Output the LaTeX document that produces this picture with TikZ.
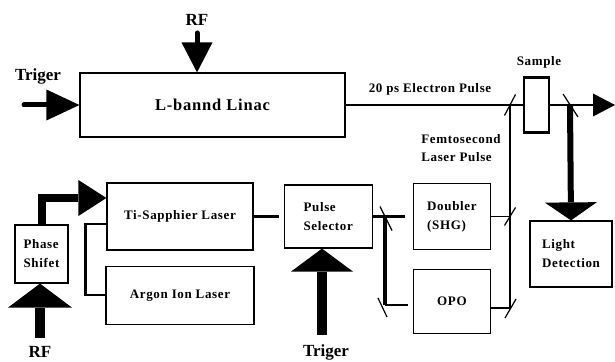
\documentclass[tikz,border=0pt]{standalone}
\usepackage{fontspec}
\setmainfont{Liberation Serif}
\newfontfamily\labelfont[LetterSpace=5]{Liberation Serif}
\usetikzlibrary{arrows.meta, positioning, calc}

\begin{document}
\begin{tikzpicture}[
    x=1pt, y=1pt,
    node distance=15pt and 30pt,
    % Node styles
    unit/.style={rectangle, draw, line width=1.2pt, inner sep=0pt, align=left, font=\labelfont\bfseries\fontsize{13}{19}\selectfont},
    cell/.style={unit, line width=2.2pt},
    tag/.style={font=\bfseries\fontsize{17}{19}\selectfont},
    note/.style={align=left, font=\labelfont\bfseries\fontsize{13}{18}\selectfont},
    % Arrow styles
    feed/.style n args={3}{line width=#1, line join=miter, -{Triangle[length=#2, width=#3, line width=0pt]}},
    beam/.style={line width=1.6pt},
    path/.style={line width=2.4pt},
    mirror/.style={line width=1.2pt},
]
\useasboundingbox (0,0) rectangle (615,361);

% Linac and electron beam
\node (linac) [unit, minimum width=265pt, minimum height=64pt, font=\labelfont\bfseries\fontsize{16.5}{18}\selectfont] at (212.5,256) {L-bannd Linac};
\node (sample) [cell, minimum width=25pt, minimum height=55pt] at (536.5,256) {};
\node (samplelbl) [note] at (539,299) {Sample};
\node (pulselbl) [note] at (430,272) {20 ps Electron Pulse};
\node (femtolbl) [note] at (461,213) {Femtosecond\\Laser Pulse};

% Laser chain
\node (tisa) [unit, minimum width=146pt, minimum height=67pt] at (180,144.5) {Ti-Sapphier Laser};
\node (argon) [unit, minimum width=148pt, minimum height=58pt, below=15pt of tisa] {Argon Ion Laser};
\node (phase) [unit, minimum width=53pt, minimum height=58pt] at (41.5,107) {Phase\\Shifet};
\node (pulse) [unit, minimum width=88pt, minimum height=63pt, right=30pt of tisa] {Pulse\\Selector};
\node (doubler) [unit, minimum width=77pt, minimum height=66pt, right=40pt of pulse] {Doubler\\(SHG)};
\node (opo) [unit, minimum width=77pt, minimum height=64pt, below=19pt of doubler] {OPO};
\node (light) [unit, minimum width=82pt, minimum height=66pt] at (571,107) {Light\\Detection};

% Inputs
\node (rftop) [tag] at (197,341) {RF};
\node (trigtop) [tag] at (38,285) {Triger};
\node (rfbot) [tag] at (40,9) {RF};
\node (trigbot) [tag] at (326,9) {Triger};
\coordinate (rfin) at (197,328);
\coordinate (trin) at (24,256);
\coordinate (rfin2) at (40,23);
\coordinate (trin2) at (322,26);
\coordinate (beamout) at (615,256);

% Mirrors
\coordinate (m1) at (510,256);
\coordinate (m2) at (570,256);
\coordinate (m3) at (510,144.5);
\coordinate (m4) at (510,53);
\coordinate (m5) at (385,144.5);
\coordinate (m6) at (385,56);

% Big input arrows
\draw [feed={5pt}{30pt}{31pt}, line cap=round] (rfin) -- (rfin |- linac.north);
\draw [feed={5pt}{33pt}{31pt}, line cap=round] (trin) -- (linac.west);
\draw [feed={10pt}{24pt}{64pt}] (rfin2) -- (rfin2 |- phase.south);
\draw [feed={10pt}{23pt}{62pt}] (trin2) -- (trin2 |- pulse.south);
\draw [feed={8pt}{28pt}{36pt}] (phase.north) |- ($(tisa.west)+(0,18.5)$);

% Electron beam
\draw [beam] (linac.east) -- (sample.west);
\draw [beam, -{Triangle[length=22pt, width=23pt, line width=0pt]}] (sample.east) -- (beamout);

% Laser paths
\draw [path] ($(tisa.west)+(0,-7.5)$) -- ++(-21,0) |- (argon.west);
\draw [path, shorten >=5pt] (tisa.east) -- (pulse.west);
\draw [path, shorten >=8pt] (pulse.east) -- (doubler.west);
\draw [line width=4pt] (m5) -- (m6);
\draw [path, shorten >=5pt] (m6) -- (opo.west |- m6);
\draw [beam] (doubler.east) -- (m3);
\draw [beam] (opo.east |- m4) -- (m4);
\draw [beam] (m4) -- (m3) -- (m1);
\draw [feed={6pt}{18pt}{52pt}] (m2) -- (light.north);

% Mirror marks
\draw [mirror] ($(m1)+(-5.5,-10.5)$) -- ($(m1)+(5.5,10.5)$);
\draw [mirror] ($(m2)+(-7,11)$) -- ($(m2)+(8,-12)$);
\draw [mirror] ($(m3)+(-5.5,-9)$) -- ($(m3)+(5.5,9)$);
\draw [mirror] ($(m4)+(-5,-10)$) -- ($(m4)+(6,9)$);
\draw [mirror] ($(m5)+(-5,10)$) -- ($(m5)+(7,-14)$);
\draw [mirror] ($(m6)+(-7,7)$) -- ($(m6)+(2,-12)$);

\end{tikzpicture}
\end{document}
